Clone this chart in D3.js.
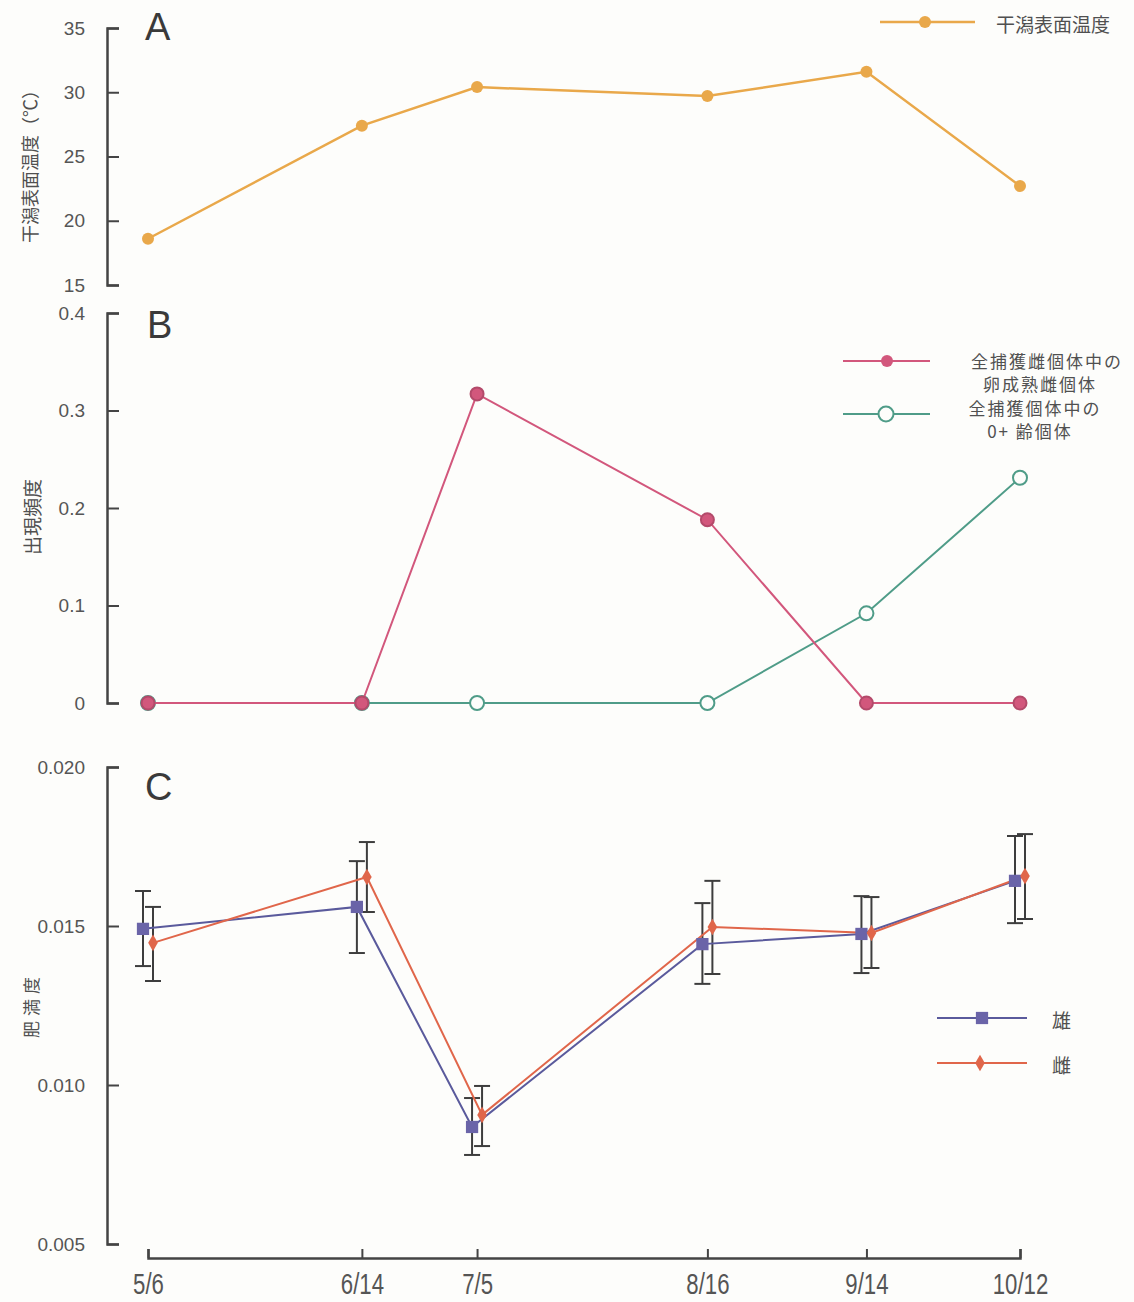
<!DOCTYPE html>
<html>
<head>
<meta charset="utf-8">
<script src="https://cdn.jsdelivr.net/npm/d3@7/dist/d3.min.js"></script>
<style>
  html, body { margin: 0; padding: 0; background: #fdfdfb; }
  svg { display: block; }
  .tick text { font-family: "Liberation Sans", Arial, sans-serif; fill: #555; }
  .cjk { font-family: "Noto Sans CJK JP", "Noto Sans CJK SC", sans-serif; fill: #505050; }
</style>
</head>
<body>
<script>
// Sampling dates (month/day)
const dates = ["5/6", "6/14", "7/5", "8/16", "9/14", "10/12"];

// Panel A: tidal-flat surface temperature (°C)
const tempValues = [18.6, 27.4, 30.4, 29.7, 31.6, 22.7];

// Panel B: occurrence frequency
const matureFemaleFreq = [0, 0, 0.317, 0.188, 0, 0];
const age0Freq = [0, 0, 0, 0, 0.092, 0.231];

// Panel C: condition factor, mean and error bar limits
const maleMean = [0.01491, 0.01560, 0.00868, 0.01443, 0.01475, 0.01642];
const maleHigh = [0.01610, 0.01704, 0.00959, 0.01572, 0.01594, 0.01783];
const maleLow  = [0.01374, 0.01415, 0.00780, 0.01318, 0.01352, 0.01509];
const femaleMean = [0.01447, 0.01654, 0.00906, 0.01497, 0.01478, 0.01657];
const femaleHigh = [0.01560, 0.01764, 0.00997, 0.01642, 0.01591, 0.01789];
const femaleLow  = [0.01327, 0.01544, 0.00808, 0.01349, 0.01368, 0.01522];

// Axis ticks
const tempTicks = [15, 20, 25, 30, 35];
const freqTicks = [0, 0.1, 0.2, 0.3, 0.4];
const condTicks = [0.005, 0.010, 0.015, 0.020];

const W = 1134, H = 1302;
const svg = d3.select("body").append("svg").attr("width", W).attr("height", H);

const parse = d3.timeParse("%m/%d");
const dateObjs = dates.map(parse);

const axisX0 = 107;
const x = d3.scaleTime().domain(d3.extent(dateObjs)).range([148, 1020]);

const yA = d3.scaleLinear().domain([15, 35]).range([285, 28]);
const yB = d3.scaleLinear().domain([0, 0.4]).range([703, 313]);
const yC = d3.scaleLinear().domain([0.005, 0.020]).range([1244, 767]);

const axisColor = "#444";

function yAxis(scale, ticks, fmt) {
  const g = svg.append("g").attr("transform", `translate(${axisX0},0)`)
    .call(d3.axisLeft(scale).tickValues(ticks).tickFormat(fmt)
      .tickSize(-12).tickPadding(22));
  g.select(".domain").attr("stroke", axisColor).attr("stroke-width", 2.5);
  g.selectAll(".tick line").attr("stroke", axisColor).attr("stroke-width", 2);
  g.selectAll(".tick text").attr("font-size", 19);
  return g;
}

yAxis(yA, tempTicks, d3.format("d"));
yAxis(yB, freqTicks, d => d === 0 ? "0" : d3.format(".1f")(d));
yAxis(yC, condTicks, d3.format(".3f"));

// Shared date axis at the bottom, ticks pointing up, condensed labels
const gx = svg.append("g").attr("transform", "translate(0,1258)")
  .call(d3.axisBottom(x).tickValues(dateObjs).tickFormat((d, i) => dates[i])
    .tickSize(-9).tickPadding(0));
gx.select(".domain").attr("stroke", axisColor).attr("stroke-width", 2.5);
gx.selectAll(".tick line").attr("stroke", axisColor).attr("stroke-width", 2);
gx.selectAll(".tick text").attr("font-size", 30)
  .attr("y", 0).attr("dy", 0)
  .attr("transform", "translate(0,36) scale(0.74,1)");

// Panel letters
const letterFont = "'Liberation Sans', Arial, sans-serif";
[["A", 145, 40], ["B", 147, 338], ["C", 145, 800]].forEach(([t, lx, ly]) => {
  svg.append("text").attr("x", lx).attr("y", ly).text(t)
    .attr("font-size", 38).attr("fill", "#3a3a3a").style("font-family", letterFont);
});

// Y axis titles
function yTitle(text, cx, cy, size, spacing) {
  svg.append("text").attr("class", "cjk")
    .attr("transform", `translate(${cx},${cy}) rotate(-90)`)
    .attr("text-anchor", "middle").attr("dominant-baseline", "central")
    .attr("font-size", size).attr("letter-spacing", spacing).text(text);
}
yTitle("干潟表面温度（℃）", 29, 162, 18, 0);
yTitle("出現頻度", 31, 517, 19, 0);
yTitle("肥満度", 30, 1005, 17, 5);

// Panel A: temperature line
const orange = "#e9a84a";
const dataA = dateObjs.map((d, i) => ({ d, v: tempValues[i] }));
svg.append("path").datum(dataA)
  .attr("fill", "none").attr("stroke", orange).attr("stroke-width", 2.5)
  .attr("d", d3.line().x(p => x(p.d)).y(p => yA(p.v)));
svg.selectAll(".ptA").data(dataA).join("circle")
  .attr("cx", p => x(p.d)).attr("cy", p => yA(p.v)).attr("r", 6)
  .attr("fill", orange);

// Panel A legend
svg.append("line").attr("x1", 880).attr("x2", 975).attr("y1", 22).attr("y2", 22)
  .attr("stroke", orange).attr("stroke-width", 2.5);
svg.append("circle").attr("cx", 925).attr("cy", 22).attr("r", 6).attr("fill", orange);
svg.append("text").attr("class", "cjk").attr("x", 996).attr("y", 23)
  .attr("dominant-baseline", "central").attr("font-size", 19).text("干潟表面温度");

// Panel B
const pink = "#d2577c";
const pinkEdge = "#b34a6a";
const green = "#4f9c88";
const dataPink = dateObjs.map((d, i) => ({ d, v: matureFemaleFreq[i] }));
const dataGreen = dateObjs.map((d, i) => ({ d, v: age0Freq[i] }));
const lineB = d3.line().x(p => x(p.d)).y(p => yB(p.v));

svg.append("path").datum(dataGreen)
  .attr("fill", "none").attr("stroke", green).attr("stroke-width", 2)
  .attr("d", lineB);
svg.selectAll(".ptG").data(dataGreen).join("circle")
  .attr("cx", p => x(p.d)).attr("cy", p => yB(p.v)).attr("r", 7)
  .attr("fill", "#fdfdfb").attr("stroke", green).attr("stroke-width", 2);
svg.append("path").datum(dataPink)
  .attr("fill", "none").attr("stroke", pink).attr("stroke-width", 2)
  .attr("d", lineB);
svg.selectAll(".ptP").data(dataPink).join("circle")
  .attr("cx", p => x(p.d)).attr("cy", p => yB(p.v)).attr("r", 6.5)
  .attr("fill", pink).attr("stroke", pinkEdge).attr("stroke-width", 2);

// Panel B legend
svg.append("line").attr("x1", 843).attr("x2", 930).attr("y1", 361).attr("y2", 361)
  .attr("stroke", pink).attr("stroke-width", 2);
svg.append("circle").attr("cx", 887).attr("cy", 361).attr("r", 6).attr("fill", pink);
svg.append("line").attr("x1", 843).attr("x2", 930).attr("y1", 414).attr("y2", 414)
  .attr("stroke", green).attr("stroke-width", 2);
svg.append("circle").attr("cx", 886).attr("cy", 414).attr("r", 7.5)
  .attr("fill", "#fdfdfb").attr("stroke", green).attr("stroke-width", 2);
[["全捕獲雌個体中の", 1047, 360], ["卵成熟雌個体", 1040, 383],
 ["全捕獲個体中の", 1035, 407], ["0+ 齢個体", 1030, 430]].forEach(([t, tx, ty]) => {
  svg.append("text").attr("class", "cjk").attr("x", tx).attr("y", ty)
    .attr("text-anchor", "middle").attr("dominant-baseline", "central")
    .attr("font-size", 17).attr("letter-spacing", 2).text(t);
});

// Panel C: condition factor with error bars
const blue = "#5a5a9c";
const blueFill = "#6a64a8";
const red = "#e0664a";
const offset = 5;
const male = dateObjs.map((d, i) => ({ d, v: maleMean[i], hi: maleHigh[i], lo: maleLow[i] }));
const female = dateObjs.map((d, i) => ({ d, v: femaleMean[i], hi: femaleHigh[i], lo: femaleLow[i] }));

function errorBars(data, dx) {
  const g = svg.append("g").attr("stroke", "#3d3d3d").attr("stroke-width", 2);
  data.forEach(p => {
    const cx = x(p.d) + dx;
    g.append("line").attr("x1", cx).attr("x2", cx).attr("y1", yC(p.hi)).attr("y2", yC(p.lo));
    g.append("line").attr("x1", cx - 8).attr("x2", cx + 8).attr("y1", yC(p.hi)).attr("y2", yC(p.hi));
    g.append("line").attr("x1", cx - 8).attr("x2", cx + 8).attr("y1", yC(p.lo)).attr("y2", yC(p.lo));
  });
}
errorBars(male, -offset);
errorBars(female, offset);

svg.append("path").datum(male)
  .attr("fill", "none").attr("stroke", blue).attr("stroke-width", 2)
  .attr("d", d3.line().x(p => x(p.d) - offset).y(p => yC(p.v)));
svg.append("path").datum(female)
  .attr("fill", "none").attr("stroke", red).attr("stroke-width", 2)
  .attr("d", d3.line().x(p => x(p.d) + offset).y(p => yC(p.v)));

const sq = d3.symbol().type(d3.symbolSquare).size(150);
const dm = d3.symbol().type(d3.symbolDiamond).size(80);
svg.selectAll(".ptM").data(male).join("path")
  .attr("transform", p => `translate(${x(p.d) - offset},${yC(p.v)})`)
  .attr("d", sq).attr("fill", blueFill);
svg.selectAll(".ptF").data(female).join("path")
  .attr("transform", p => `translate(${x(p.d) + offset},${yC(p.v)})`)
  .attr("d", dm).attr("fill", red);

// Panel C legend
svg.append("line").attr("x1", 937).attr("x2", 1027).attr("y1", 1018).attr("y2", 1018)
  .attr("stroke", blue).attr("stroke-width", 2);
svg.append("path").attr("transform", "translate(982,1018)").attr("d", sq).attr("fill", blueFill);
svg.append("line").attr("x1", 937).attr("x2", 1027).attr("y1", 1063).attr("y2", 1063)
  .attr("stroke", red).attr("stroke-width", 2);
svg.append("path").attr("transform", "translate(980,1063)").attr("d", dm).attr("fill", red);
svg.append("text").attr("class", "cjk").attr("x", 1052).attr("y", 1019)
  .attr("dominant-baseline", "central").attr("font-size", 19).text("雄");
svg.append("text").attr("class", "cjk").attr("x", 1052).attr("y", 1064)
  .attr("dominant-baseline", "central").attr("font-size", 19).text("雌");
</script>
</body>
</html>
